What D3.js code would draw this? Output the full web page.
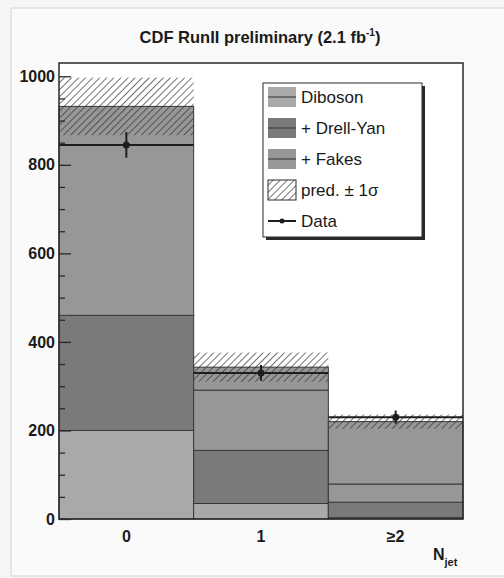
<!DOCTYPE html>
<html>
<head>
<meta charset="utf-8">
<script src="https://cdn.jsdelivr.net/npm/d3@7"></script>
<style>
  body { margin: 0; background: #f6f6f6; }
  text { font-family: "Liberation Sans", Arial, sans-serif; }
</style>
</head>
<body>
<div class="container"></div>
<script>
// N_jet bins
const categories = ["0", "1", "≥2"];
// background components (events per bin, stacked)
const diboson = [200, 35, 3];
const drellYan = [260, 120, 35];
const fakes = [472, 136, 41];
const fakesUpper = [0, 52, 141];
// uncertainty on the total prediction
const predError = [65, 33, 16];
// observed
const dataValues = [845, 330, 230];
const dataErrors = [29, 18, 15];
const yTicks = [0, 200, 400, 600, 800, 1000];
const legendLabels = ["Diboson", "+ Drell-Yan", "+ Fakes", "pred. ± 1σ", "Data"];

const width = 504;
const height = 578;
const margin = { top: 63, right: 41, bottom: 59, left: 59 };

const svg = d3.select(".container").append("svg")
  .attr("width", width)
  .attr("height", height);

// hatch for the error band
svg.append("defs").append("pattern")
  .attr("id", "hatch")
  .attr("patternUnits", "userSpaceOnUse")
  .attr("width", 5)
  .attr("height", 5)
  .attr("patternTransform", "rotate(45)")
  .append("line")
  .attr("x1", 0).attr("y1", 0)
  .attr("x2", 0).attr("y2", 5)
  .attr("stroke", "#333")
  .attr("stroke-width", 1.4);

// scanned page border
svg.append("rect")
  .attr("x", 11).attr("y", 8)
  .attr("width", width + 20).attr("height", 568)
  .attr("fill", "#fafafa")
  .attr("stroke", "#d4d4d4");

svg.append("rect")
  .attr("x", margin.left)
  .attr("y", margin.top)
  .attr("width", width - margin.left - margin.right)
  .attr("height", height - margin.top - margin.bottom)
  .attr("fill", "#ffffff");

const x = d3.scaleBand()
  .domain(categories)
  .range([margin.left, width - margin.right])
  .padding(0);

const y = d3.scaleLinear()
  .domain([0, 1030])
  .range([height - margin.bottom, margin.top]);

const rows = categories.map((c, i) => ({
  cat: c,
  diboson: diboson[i],
  drellYan: drellYan[i],
  fakes: fakes[i],
  fakesUpper: fakesUpper[i]
}));

const keys = ["diboson", "drellYan", "fakes", "fakesUpper"];
const colors = { diboson: "#a9a9a9", drellYan: "#7a7a7a", fakes: "#979797", fakesUpper: "#979797" };
const stacked = d3.stack().keys(keys)(rows);

svg.append("g")
  .selectAll("g")
  .data(stacked)
  .enter()
  .append("g")
  .attr("fill", d => colors[d.key])
  .selectAll("rect")
  .data(d => d)
  .enter()
  .append("rect")
  .attr("x", d => x(d.data.cat))
  .attr("y", d => y(d[1]))
  .attr("width", x.bandwidth())
  .attr("height", d => y(d[0]) - y(d[1]))
  .attr("stroke", "#383838")
  .attr("stroke-width", 1);

// prediction +- 1 sigma
const totals = categories.map((c, i) => diboson[i] + drellYan[i] + fakes[i] + fakesUpper[i]);
svg.append("g")
  .selectAll("rect")
  .data(categories)
  .enter()
  .append("rect")
  .attr("x", d => x(d))
  .attr("y", (d, i) => y(totals[i] + predError[i]))
  .attr("width", x.bandwidth())
  .attr("height", (d, i) => y(totals[i] - predError[i]) - y(totals[i] + predError[i]))
  .attr("fill", "url(#hatch)");

// data points with bin-width x errors
const dataG = svg.append("g")
  .attr("stroke", "#1e1e1e")
  .attr("stroke-width", 2);

dataG.selectAll(".xerr")
  .data(categories)
  .enter()
  .append("line")
  .attr("x1", d => x(d))
  .attr("x2", d => x(d) + x.bandwidth())
  .attr("y1", (d, i) => y(dataValues[i]))
  .attr("y2", (d, i) => y(dataValues[i]));

dataG.selectAll(".yerr")
  .data(categories)
  .enter()
  .append("line")
  .attr("x1", d => x(d) + x.bandwidth() / 2)
  .attr("x2", d => x(d) + x.bandwidth() / 2)
  .attr("y1", (d, i) => y(dataValues[i] - dataErrors[i]))
  .attr("y2", (d, i) => y(dataValues[i] + dataErrors[i]));

dataG.selectAll("circle")
  .data(categories)
  .enter()
  .append("circle")
  .attr("cx", d => x(d) + x.bandwidth() / 2)
  .attr("cy", (d, i) => y(dataValues[i]))
  .attr("r", 2.5)
  .attr("fill", "#1e1e1e");

// frame
svg.append("rect")
  .attr("x", margin.left)
  .attr("y", margin.top)
  .attr("width", width - margin.left - margin.right)
  .attr("height", height - margin.top - margin.bottom)
  .attr("fill", "none")
  .attr("stroke", "#2a2a2a")
  .attr("stroke-width", 1.5);

// y axis, ticks pointing inward
const yAxis = svg.append("g")
  .attr("transform", `translate(${margin.left},0)`)
  .call(d3.axisLeft(y).tickValues(yTicks).tickSize(-12).tickPadding(4).tickFormat(d3.format("d")));
yAxis.select(".domain").remove();
yAxis.selectAll("line").attr("stroke", "#2a2a2a").attr("stroke-width", 1.3);
yAxis.selectAll("text")
  .attr("font-size", 16)
  .attr("font-weight", "bold")
  .attr("fill", "#1a1a1a")
  .style("font-family", "'Liberation Sans', Arial, sans-serif");

const yMinor = svg.append("g")
  .attr("transform", `translate(${margin.left},0)`)
  .call(d3.axisLeft(y).tickValues(d3.range(50, 1030, 50).filter(v => v % 200 !== 0)).tickSize(-6).tickFormat(""));
yMinor.select(".domain").remove();
yMinor.selectAll("line").attr("stroke", "#2a2a2a").attr("stroke-width", 1.3);

// x axis labels
const xAxis = svg.append("g")
  .attr("transform", `translate(0,${height - margin.bottom})`)
  .call(d3.axisBottom(x).tickSize(0).tickPadding(12));
xAxis.select(".domain").remove();
xAxis.selectAll("text")
  .attr("font-size", 16)
  .attr("font-weight", "bold")
  .attr("fill", "#1a1a1a")
  .style("font-family", "'Liberation Sans', Arial, sans-serif");

const nj = svg.append("text")
  .attr("x", 433)
  .attr("y", 560)
  .attr("font-size", 16)
  .attr("font-weight", "bold")
  .attr("fill", "#1a1a1a");
nj.append("tspan").text("N");
nj.append("tspan").attr("font-size", 11).attr("dy", 6).text("jet");

// title
const title = svg.append("text")
  .attr("x", 260)
  .attr("y", 43)
  .attr("text-anchor", "middle")
  .attr("font-size", 16.5)
  .attr("font-weight", "bold")
  .attr("fill", "#1a1a1a");
title.append("tspan").text("CDF RunII preliminary (2.1 fb");
title.append("tspan").attr("font-size", 10).attr("dy", -7).text("-1");
title.append("tspan").attr("dy", 7).text(")");

// legend
const legend = svg.append("g");
legend.append("rect")
  .attr("x", 266).attr("y", 86)
  .attr("width", 159).attr("height", 154)
  .attr("fill", "#2a2a2a");
legend.append("rect")
  .attr("x", 263).attr("y", 83)
  .attr("width", 159).attr("height", 154)
  .attr("fill", "#ffffff")
  .attr("stroke", "#2a2a2a")
  .attr("stroke-width", 1);

const swatchFills = [colors.diboson, colors.drellYan, colors.fakes, "url(#hatch)"];
const rowY = d3.scalePoint().domain(legendLabels).range([97, 221]);

legendLabels.forEach((label, i) => {
  const cy = rowY(label);
  if (i < 4) {
    legend.append("rect")
      .attr("x", 268).attr("y", cy - 10)
      .attr("width", 28).attr("height", 20)
      .attr("fill", swatchFills[i])
      .attr("stroke", i === 3 ? "#2a2a2a" : "none");
    if (i < 3) {
      legend.append("line")
        .attr("x1", 268).attr("x2", 296)
        .attr("y1", cy).attr("y2", cy)
        .attr("stroke", "#333").attr("stroke-width", 1);
    }
  } else {
    legend.append("line")
      .attr("x1", 268).attr("x2", 296)
      .attr("y1", cy).attr("y2", cy)
      .attr("stroke", "#1e1e1e").attr("stroke-width", 2);
    legend.append("circle")
      .attr("cx", 282).attr("cy", cy).attr("r", 2.5)
      .attr("fill", "#1e1e1e");
  }
  legend.append("text")
    .attr("x", 301)
    .attr("y", cy + 6)
    .attr("font-size", 17)
    .attr("fill", "#1a1a1a")
    .text(label);
});
</script>
</body>
</html>
